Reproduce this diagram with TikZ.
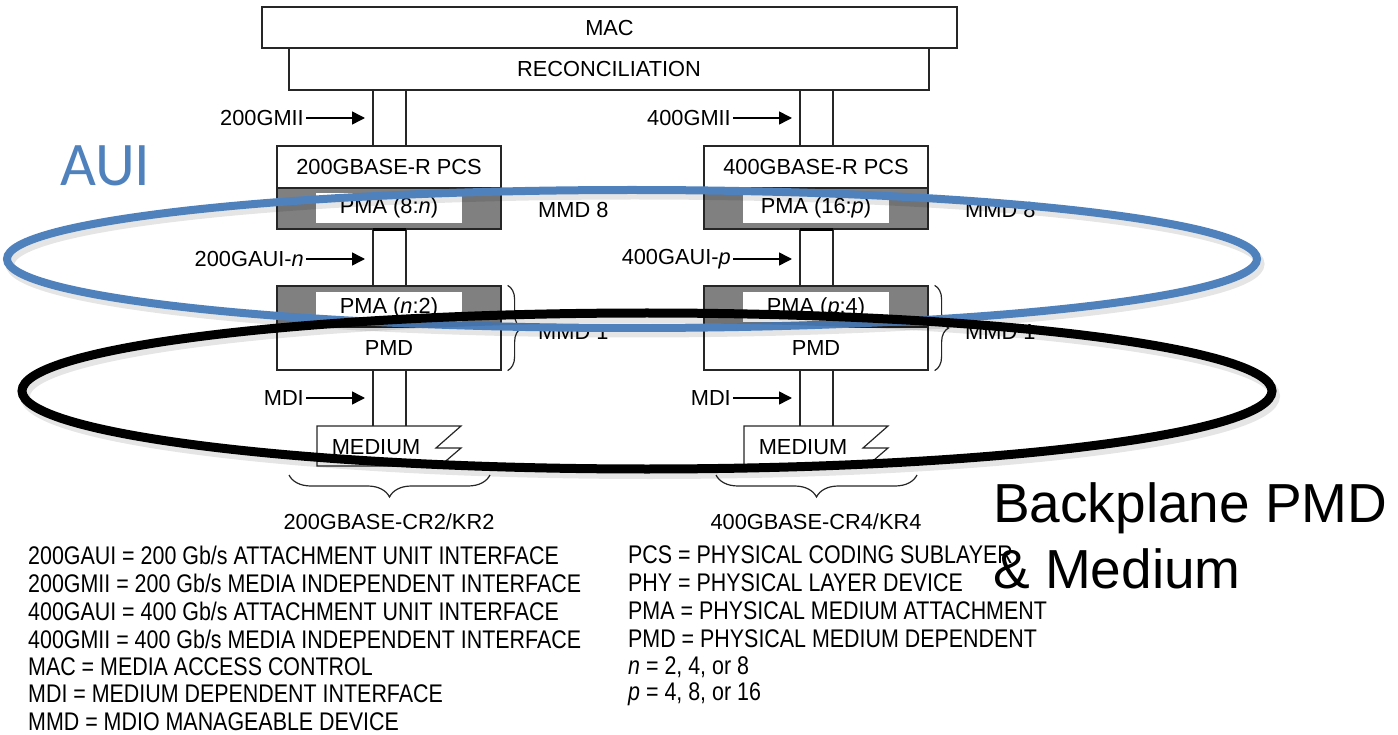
\documentclass[tikz,border=0pt]{standalone}
\usepackage{fontspec}
\setmainfont{Liberation Sans}
\newfontfamily\legendfont[FakeStretch=0.84]{Liberation Sans}
\newfontfamily\slidefont{Carlito}
\usetikzlibrary{arrows.meta,decorations.pathreplacing,positioning}
\definecolor{auiblue}{RGB}{79,129,189}
\definecolor{pmagray}{RGB}{128,128,128}
\newcommand{\dfont}{\fontsize{21.8}{25}\selectfont}
\newcommand{\lfont}{\legendfont\fontsize{25.5}{28}\selectfont}
\tikzset{
  wire/.style={draw=black!85, line width=1.2pt},
  box/.style={wire, fill=white, inner sep=0pt, minimum width=224pt, font=\dfont},
  graybox/.style={box, fill=pmagray, minimum height=41pt},
  inbox/.style={fill=white, inner sep=0pt, minimum width=146pt, minimum height=30pt, font=\dfont},
  lbl/.style={inner sep=2pt, font=\dfont},
  feed/.style={draw=black, line width=1.5pt, ->},
  legend/.style={anchor=west, inner sep=0pt, font=\lfont},
  mmdbrace/.style={wire, decorate, decoration={brace, amplitude=14pt}},
  basebrace/.style={wire, decorate, decoration={brace, amplitude=22pt}},
}
\begin{document}
\begin{tikzpicture}[x=1pt, y=-1pt, >={Triangle[length=13pt,width=13pt]}]
\useasboundingbox (0,0) rectangle (1398,735);
% shared layers
\node[box, minimum width=695pt, minimum height=41pt] (mac) at (609.5,27.5) {MAC};
\node[box, minimum width=640pt, minimum height=42pt] (rec) at (609,69) {RECONCILIATION};

% 200G stack
\node[box, minimum height=42pt] (pcsA) at (389,167) {200GBASE-R PCS};
\node[graybox] (pmaA) at (389,208.5) {};
\node[inbox] (pmaAin) at (389,208) {PMA (8:\textit{n})};
\node[graybox] (pmbA) at (389,306.5) {};
\node[inbox] (pmbAin) at (389,307.5) {PMA (\textit{n}:2)};
\node[box, minimum height=43pt] (pmdA) at (389,348.5) {PMD};
\coordinate (medAtop) at (389,426);
\draw[wire, fill=white] (317,426) -- (461,426) -- (436,448) -- (461,448) -- (440,466) -- (317,466) -- cycle;
\node[lbl] (medA) at (376,447) {MEDIUM};
\foreach \d in {-16,17} {
  \draw[wire] ([xshift=\d pt]pcsA.north) -- ([xshift=\d pt]pcsA.north |- rec.south);
  \draw[wire] ([xshift=\d pt]pmaA.south) -- ([xshift=\d pt]pmbA.north);
  \draw[wire] ([xshift=\d pt]pmdA.south) -- ([xshift=\d pt]medAtop);
}
\draw[line width=3pt] ([xshift=-16pt]pmaA.south) -- ([xshift=17pt]pmaA.south);
\node[lbl, anchor=east] (gmiiA) at (306,118) {200GMII};
\node[lbl, anchor=east] (gauiA) at (306,259) {200GAUI-\textit{n}};
\node[lbl, anchor=east] (mdiA) at (306,398) {MDI};
\coordinate (gmiiAend) at (365,118);
\coordinate (gauiAend) at (365,259);
\coordinate (mdiAend) at (365,398);
\draw[feed] (gmiiA) -- (gmiiAend);
\draw[feed] (gauiA) -- (gauiAend);
\draw[feed] (mdiA) -- (mdiAend);
\node[lbl, anchor=west] (mmd8A) at (536,210) {MMD 8};
\draw[mmdbrace] ([xshift=6pt]pmbA.north east) -- ([xshift=6pt]pmdA.south east);
\node[lbl, anchor=west] (mmd1A) at (536,332) {MMD 1};
\draw[basebrace] (490,475) -- (289,475);
\node[lbl] (baseA) at (389,522) {200GBASE-CR2/KR2};

% 400G stack
\node[box, minimum height=42pt] (pcsB) at (816,167) {400GBASE-R PCS};
\node[graybox] (pmaB) at (816,208.5) {};
\node[inbox] (pmaBin) at (816,208) {PMA (16:\textit{p})};
\node[graybox] (pmbB) at (816,306.5) {};
\node[inbox] (pmbBin) at (816,307.5) {PMA (\textit{p}:4)};
\node[box, minimum height=43pt] (pmdB) at (816,348.5) {PMD};
\coordinate (medBtop) at (816,426);
\draw[wire, fill=white] (744,426) -- (888,426) -- (863,448) -- (888,448) -- (867,466) -- (744,466) -- cycle;
\node[lbl] (medB) at (803,447) {MEDIUM};
\foreach \d in {-16,17} {
  \draw[wire] ([xshift=\d pt]pcsB.north) -- ([xshift=\d pt]pcsB.north |- rec.south);
  \draw[wire] ([xshift=\d pt]pmaB.south) -- ([xshift=\d pt]pmbB.north);
  \draw[wire] ([xshift=\d pt]pmdB.south) -- ([xshift=\d pt]medBtop);
}
\draw[line width=3pt] ([xshift=-16pt]pmaB.south) -- ([xshift=17pt]pmaB.south);
\node[lbl, anchor=east] (gmiiB) at (733,118) {400GMII};
\node[lbl, anchor=east] (gauiB) at (733,259) {400GAUI-\textit{p}};
\node[lbl, anchor=east] (mdiB) at (733,398) {MDI};
\coordinate (gmiiBend) at (792,118);
\coordinate (gauiBend) at (792,259);
\coordinate (mdiBend) at (792,398);
\draw[feed] (gmiiB) -- (gmiiBend);
\draw[feed] (gauiB) -- (gauiBend);
\draw[feed] (mdiB) -- (mdiBend);
\node[lbl, anchor=west] (mmd8B) at (963,210) {MMD 8};
\draw[mmdbrace] ([xshift=6pt]pmbB.north east) -- ([xshift=6pt]pmdB.south east);
\node[lbl, anchor=west] (mmd1B) at (963,332) {MMD 1};
\draw[basebrace] (917,475) -- (716,475);
\node[lbl] (baseB) at (816,522) {400GBASE-CR4/KR4};

% legend
\node[legend] (l1) at (28,555) {200GAUI = 200 Gb/s ATTACHMENT UNIT INTERFACE};
\node[legend] (l2) at (28,583) {200GMII = 200 Gb/s MEDIA INDEPENDENT INTERFACE};
\node[legend] (l3) at (28,611) {400GAUI = 400 Gb/s ATTACHMENT UNIT INTERFACE};
\node[legend] (l4) at (28,639) {400GMII = 400 Gb/s MEDIA INDEPENDENT INTERFACE};
\node[legend] (l5) at (28,667) {MAC = MEDIA ACCESS CONTROL};
\node[legend] (l6) at (28,694) {MDI = MEDIUM DEPENDENT INTERFACE};
\node[legend] (l7) at (28,722) {MMD = MDIO MANAGEABLE DEVICE};
\node[legend] (r1) at (628,555) {PCS = PHYSICAL CODING SUBLAYER};
\node[legend] (r2) at (628,583) {PHY = PHYSICAL LAYER DEVICE};
\node[legend] (r3) at (628,611) {PMA = PHYSICAL MEDIUM ATTACHMENT};
\node[legend] (r4) at (628,639) {PMD = PHYSICAL MEDIUM DEPENDENT};
\node[legend] (r5) at (628,667) {\textit{n} = 2, 4, or 8};
\node[legend] (r6) at (628,694) {\textit{p} = 4, 8, or 16};

% slide overlay
\draw[black, opacity=0.1, line width=9pt] (635,264) ellipse [x radius=625pt, y radius=69pt];
\draw[auiblue, line width=8pt] (632,259) ellipse [x radius=625pt, y radius=69pt];
\draw[black, opacity=0.1, line width=10pt] (650,396) ellipse [x radius=625pt, y radius=78pt];
\draw[black, line width=9pt] (647,391) ellipse [x radius=625pt, y radius=78pt];
\node[text=auiblue, anchor=base west, inner sep=0pt, font=\slidefont\fontsize{62}{70}\selectfont] (aui) at (60,186) {AUI};
\node[anchor=base west, inner sep=0pt, font=\fontsize{55}{66}\selectfont] (bp1) at (993,522) {Backplane PMD};
\node[anchor=base west, inner sep=0pt, font=\fontsize{55}{66}\selectfont] (bp2) at (993,588) {\& Medium};
\end{tikzpicture}
\end{document}
